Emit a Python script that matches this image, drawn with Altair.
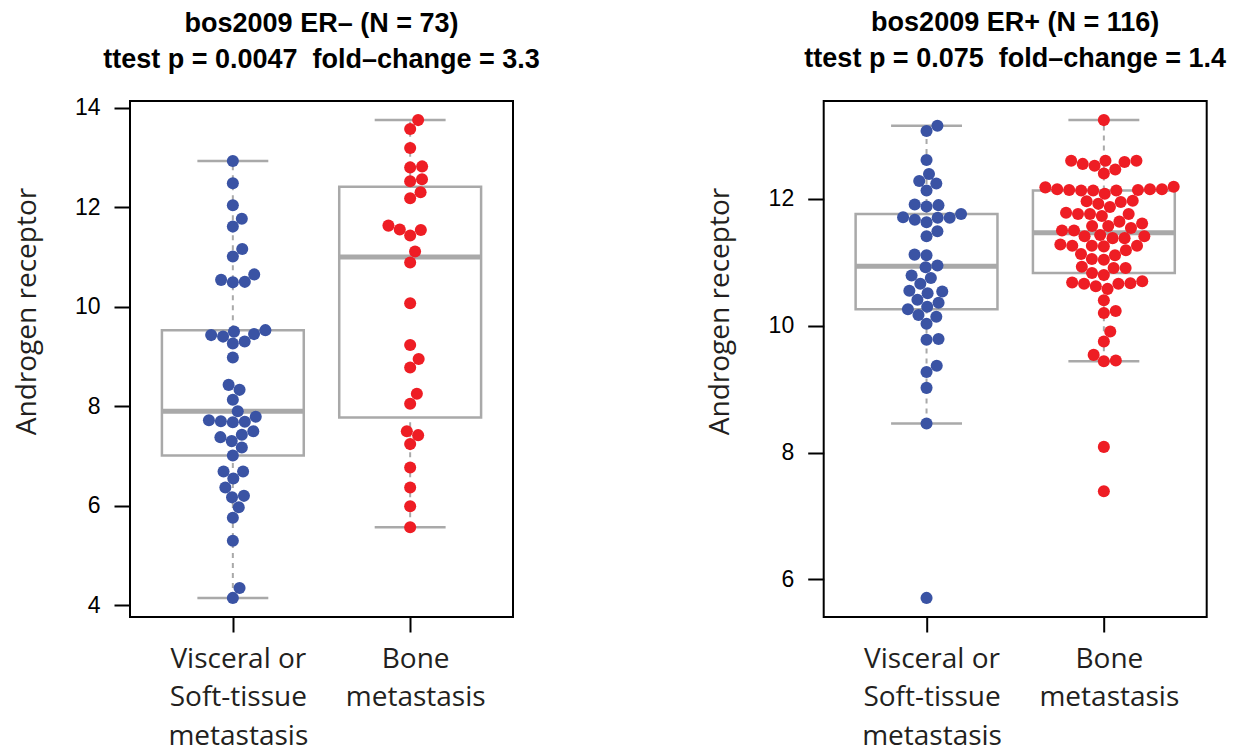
import math
import altair as alt
import numpy as np
import pandas as pd

# ---------------- data ----------------
GROUPS = ["Visceral or\nSoft-tissue\nmetastasis", "Bone\nmetastasis"]
GROUP_KEYS = ["visceral", "bone"]
COLORS = ["#3A53A4", "#EE1D24"]

TITLES = [
    ["bos2009 ER\u2013 (N = 73)", "ttest p = 0.0047 \u00a0fold\u2013change = 3.3"],
    ["bos2009 ER+ (N = 116)", "ttest p = 0.075 \u00a0fold\u2013change = 1.4"],
]
Y_TITLE = "Androgen receptor"
YTICKS_NEG = [4, 6, 8, 10, 12, 14]
YTICKS_POS = [6, 8, 10, 12]

ERNEG_VISCERAL = [12.93, 12.48, 12.04, 11.77, 11.61, 11.16, 11.01, 10.65, 10.54, 10.49,
                  10.50, 9.53, 9.43, 9.50, 9.40, 9.45, 9.26, 9.30, 8.98, 8.43, 8.33, 8.13,
                  7.90, 7.79, 7.70, 7.68, 7.69, 7.72, 7.50, 7.38, 7.43, 7.30, 7.17, 7.01,
                  6.69, 6.69, 6.55, 6.37, 6.20, 6.17, 5.97, 5.76, 5.30, 4.35, 4.15]
ERNEG_BONE = [13.75, 13.57, 13.19, 12.82, 12.80, 12.56, 12.52, 12.30, 12.18, 11.63, 11.55,
              11.54, 11.43, 11.11, 10.89, 10.07, 9.23, 8.95, 8.78, 8.25, 8.05, 7.50, 7.42,
              7.24, 6.77, 6.37, 5.99, 5.57]
ERPOS_VISCERAL = [13.15, 13.07, 12.61, 12.39, 12.28, 12.24, 12.13, 11.91, 11.88, 11.90,
                  11.76, 11.71, 11.67, 11.70, 11.63, 11.70, 11.49, 11.41, 11.11, 11.12,
                  10.95, 10.92, 10.79, 10.75, 10.66, 10.54, 10.55, 10.51, 10.41, 10.36,
                  10.30, 10.26, 10.17, 10.14, 10.03, 9.78, 9.79, 9.37, 9.27, 9.02, 8.46, 5.71]
ERPOS_BONE = [13.24, 12.60, 12.55, 12.52, 12.60, 12.58, 12.60, 12.40, 12.46, 12.15, 12.15,
              12.14, 12.13, 12.13, 12.19, 12.08, 12.13, 12.14, 12.15, 12.18, 11.97, 11.95,
              11.92, 11.96, 11.87, 11.78, 11.76, 11.73, 11.76, 11.76, 11.64, 11.61, 11.54,
              11.57, 11.57, 11.50, 11.50, 11.43, 11.41, 11.41, 11.38, 11.38, 11.26, 11.28,
              11.25, 11.19, 11.26, 11.26, 11.13, 11.11, 11.04, 11.05, 10.91, 10.91, 10.80,
              10.83, 10.93, 10.70, 10.67, 10.66, 10.62, 10.58, 10.66, 10.68, 10.40, 10.20,
              10.23, 9.91, 9.75, 9.54, 9.44, 9.45, 8.09, 7.39]

# ---------------- layout ----------------
PLOT_W, PLOT_H = 383, 516
X_DOMAIN = [0.42, 2.58]
DOT_D = 12.0      # swarm spacing in px
BOX_HALF = 0.4
STAPLE_HALF = 0.2
GRAY = "#A9A9A9"
TXT = "#231F20"


def box_stats(vals):
    x = np.sort(np.asarray(vals, dtype=float))
    n = len(x)
    n4 = math.floor((n + 3) / 2) / 2
    d = [1, n4, (n + 1) / 2, n + 1 - n4, n]
    fn = [0.5 * (x[math.floor(v) - 1] + x[math.ceil(v) - 1]) for v in d]
    q1, med, q3 = fn[1], fn[2], fn[3]
    iqr = q3 - q1
    lo = x[x >= q1 - 1.5 * iqr].min()
    hi = x[x <= q3 + 1.5 * iqr].max()
    return q1, med, q3, lo, hi


def swarm(vals, ppu):
    """beeswarm 'swarm' placement (ascending priority), offsets in px."""
    vals = np.asarray(vals, dtype=float)
    order = np.argsort(vals, kind="stable")
    placed = []
    offs = np.zeros(len(vals))
    for idx in order:
        y = vals[idx] * ppu
        near = [(py, px) for (py, px) in placed if abs(y - py) < DOT_D]
        if not near:
            off = 0.0
        else:
            near.sort(key=lambda p: abs(p[1]))
            cands = [0.0]
            cands += [px + math.sqrt(DOT_D ** 2 - (y - py) ** 2) for py, px in near]
            cands += [px - math.sqrt(DOT_D ** 2 - (y - py) ** 2) for py, px in near]
            good = [c for c in cands
                    if not any((y - py) ** 2 + (c - px) ** 2 < 0.999 * DOT_D ** 2 for py, px in near)]
            off = min(good, key=lambda c: abs(c))
        offs[idx] = off
        placed.append((y, off))
    return offs


label_expr = "datum.value == 1 ? split('{}', '|') : split('{}', '|')".format(
    GROUPS[0].replace("\n", "|"), GROUPS[1].replace("\n", "|"))


def panel(vis, bone, title, yticks, title_offset):
    allv = list(vis) + list(bone)
    lo_, hi_ = min(allv), max(allv)
    pad = 0.04 * (hi_ - lo_)
    ydom = [lo_ - pad, hi_ + pad]
    ppu_y = PLOT_H / (ydom[1] - ydom[0])
    ppu_x = PLOT_W / (X_DOMAIN[1] - X_DOMAIN[0])

    pts, boxes, whisk, staples = [], [], [], []
    for gi, vals in enumerate([vis, bone]):
        g = gi + 1
        offs = swarm(vals, ppu_y)
        for v, o in zip(vals, offs):
            pts.append({"x": g + o / ppu_x, "value": v, "grp": GROUP_KEYS[gi]})
        q1, med, q3, lo, hi = box_stats(vals)
        boxes.append({"xl": g - BOX_HALF, "xr": g + BOX_HALF, "q1": q1, "q3": q3, "med": med})
        whisk.append({"g": g, "a": q3, "b": hi})
        whisk.append({"g": g, "a": lo, "b": q1})
        staples.append({"sl": g - STAPLE_HALF, "sr": g + STAPLE_HALF, "s": hi})
        staples.append({"sl": g - STAPLE_HALF, "sr": g + STAPLE_HALF, "s": lo})

    xs = alt.Scale(domain=X_DOMAIN, nice=False, zero=False)
    ys = alt.Scale(domain=ydom, nice=False, zero=False)

    xaxis = alt.Axis(values=[1, 2], labelExpr=label_expr, title=None, grid=False, domain=False,
                     tickSize=15, tickWidth=2, tickColor="black",
                     labelFont="Open Sans", labelFontSize=28, labelColor=TXT,
                     labelLineHeight=38.5, labelPadding=13, labelOffset=5, labelBaseline="top")
    yaxis = alt.Axis(values=yticks, title=Y_TITLE, grid=False, domain=False,
                     tickSize=16, tickWidth=2, tickColor="black",
                     labelFont="Liberation Sans", labelFontSize=23, labelColor="black",
                     labelPadding=14,
                     titleFont="Open Sans", titleFontSize=28, titleFontWeight="normal",
                     titleColor=TXT, titleAngle=270, titleAlign="center",
                     titleBaseline="middle", titleX=-103, titleY=210)

    def X(f):
        return alt.X(f, scale=xs, axis=xaxis, title=None)

    def Y(f):
        return alt.Y(f, scale=ys, axis=yaxis, title=Y_TITLE)

    box = alt.Chart(pd.DataFrame(boxes)).mark_rect(
        fill="white", stroke=GRAY, strokeWidth=2.5).encode(
        x=X("xl:Q"), x2="xr:Q", y=Y("q1:Q"), y2="q3:Q")
    wh = alt.Chart(pd.DataFrame(whisk)).mark_rule(
        color=GRAY, strokeWidth=2, strokeDash=[5, 5]).encode(
        x=X("g:Q"), y=Y("a:Q"), y2="b:Q")
    st = alt.Chart(pd.DataFrame(staples)).mark_rule(color=GRAY, strokeWidth=2.5).encode(
        x=X("sl:Q"), x2="sr:Q", y=Y("s:Q"))
    md = alt.Chart(pd.DataFrame(boxes)).mark_rule(color=GRAY, strokeWidth=5).encode(
        x=X("xl:Q"), x2="xr:Q", y=Y("med:Q"))
    dots = alt.Chart(pd.DataFrame(pts)).mark_circle(size=145, opacity=1).encode(
        x=X("x:Q"), y=Y("value:Q"),
        color=alt.Color("grp:N", scale=alt.Scale(domain=GROUP_KEYS, range=COLORS), legend=None))

    return alt.layer(box, wh, st, md, dots).properties(
        width=PLOT_W, height=PLOT_H,
        title=alt.TitleParams(text=title, font="Liberation Sans", fontSize=27,
                              fontWeight="bold", color="black", anchor="middle",
                              frame="group", lineHeight=36, offset=title_offset))


left = panel(ERNEG_VISCERAL, ERNEG_BONE, TITLES[0], YTICKS_NEG, 23)
right = panel(ERPOS_VISCERAL, ERPOS_BONE, TITLES[1], YTICKS_POS, 28)

chart = alt.hconcat(left, right, spacing=310.7, bounds="flush").properties(
    padding={"left": 4, "top": 0, "right": 5, "bottom": 0},
    background="white",
).configure_view(stroke="black", strokeWidth=2)

chart.save("out.html", embed_options={"renderer": "svg", "actions": False})
